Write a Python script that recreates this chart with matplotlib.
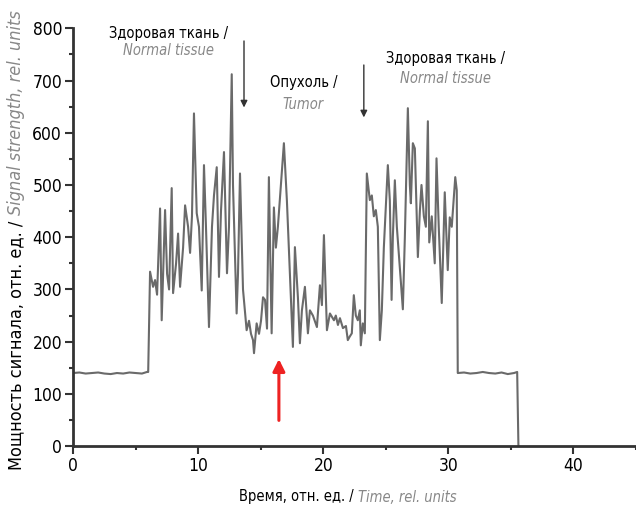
import matplotlib
matplotlib.use('Agg')
import matplotlib.pyplot as plt
from matplotlib import font_manager
from matplotlib.ticker import MultipleLocator

# узкий шрифт, если есть
narrow = [f for f in font_manager.fontManager.ttflist
          if 'Condensed' in f.fname or 'Narrow' in f.fname]
if narrow:
    plt.rcParams['font.family'] = [narrow[0].name, 'DejaVu Sans']
    plt.rcParams['font.stretch'] = 'condensed'
    fs, fs_tick, fs_lab = 10.5, 12.5, 13
else:
    plt.rcParams['font.family'] = ['DejaVu Sans']
    fs, fs_tick, fs_lab = 9, 11, 10.5

# сигнал: время (отн. ед.) и мощность (отн. ед.)
base1_t = [0, 0.5, 1, 1.5, 2, 2.5, 3, 3.5, 4, 4.5, 5, 5.5, 5.9]
base1_v = [140, 141, 139, 140, 141, 139, 138, 140, 139, 141, 140, 139, 142]

sig_t = [6.0, 6.15, 6.39, 6.55, 6.71, 6.95, 7.08, 7.35, 7.51, 7.67, 7.88, 7.99,
         8.23, 8.39, 8.55, 8.79, 8.95, 9.19, 9.35, 9.5, 9.66, 9.88, 10.06, 10.28,
         10.46, 10.62, 10.86, 11.1, 11.26, 11.48, 11.66, 11.82, 12.06, 12.3, 12.46,
         12.68, 12.78, 13.07, 13.18, 13.34, 13.58, 13.87, 14.06, 14.22, 14.38, 14.46,
         14.67, 14.86, 15.02, 15.18, 15.34, 15.5, 15.65, 15.87, 16.05, 16.21, 16.37,
         16.61, 16.85, 17.09, 17.33, 17.57, 17.73, 17.97, 18.13, 18.29, 18.53, 18.77,
         18.93, 19.17, 19.49, 19.73, 19.89, 20.05, 20.29, 20.53, 20.85, 21.0, 21.17,
         21.33, 21.57, 21.81, 21.96, 22.12, 22.28, 22.44, 22.6, 22.76, 22.92, 23.0,
         23.16, 23.32, 23.48, 23.72, 23.88, 24.04, 24.2, 24.36, 24.52, 24.68, 24.84,
         25.0, 25.16, 25.32, 25.46, 25.56, 25.72, 25.88, 26.12, 26.36, 26.52, 26.76,
         26.92, 27.0, 27.16, 27.32, 27.56, 27.72, 27.85, 28.04, 28.2, 28.36, 28.47,
         28.67, 28.91, 29.05, 29.23, 29.47, 29.71, 29.95, 30.11, 30.27, 30.55, 30.67]
sig_v = [142, 334, 305, 318, 290, 455, 241, 452, 330, 300, 494, 293,
         350, 407, 305, 380, 461, 420, 370, 440, 637, 446, 420, 298,
         538, 420, 228, 420, 480, 534, 324, 450, 563, 331, 420,
         712, 500, 254, 330, 522, 300, 222, 240, 215, 203, 178,
         235, 215, 240, 285, 280, 225, 515, 216, 457, 380, 420,
         500, 580, 470, 330, 190, 381, 285, 197, 260, 305, 216,
         260, 250, 228, 308, 270, 404, 222, 254, 241, 250, 232,
         245, 226, 230, 203, 210, 216, 289, 250, 241, 260, 193,
         235, 216, 522, 471, 480, 440, 452, 420, 203, 260, 380,
         460, 538, 470, 280, 400, 509, 420, 340, 262, 400, 647,
         500, 465, 580, 570, 362, 450, 500, 440, 420, 622, 390,
         440, 350, 551, 420, 274, 486, 337, 438, 420, 515, 490]

base2_t = [30.75, 31.25, 31.75, 32.25, 32.75, 33.25, 33.75, 34.25, 34.75, 35.25, 35.5, 35.6]
base2_v = [140, 141, 139, 140, 142, 140, 139, 141, 138, 140, 142, 0]

t = base1_t + sig_t + base2_t
v = base1_v + sig_v + base2_v

W, H = 636, 514
fig = plt.figure(figsize=(W / 100, H / 100), dpi=100)
ax = fig.add_axes([0.115, 0.132, 0.885, 0.813])

ax.plot(t, v, color='#6a6a6a', linewidth=1.5)

ax.set_xlim(0, 45)
ax.set_ylim(0, 800)
ax.xaxis.set_major_locator(MultipleLocator(10))
ax.xaxis.set_minor_locator(MultipleLocator(5))
ax.yaxis.set_major_locator(MultipleLocator(100))
ax.yaxis.set_minor_locator(MultipleLocator(50))
ax.tick_params(which='both', direction='out', color='#333333', width=1.5, labelsize=fs_tick)
ax.tick_params(which='major', length=6, pad=2)
ax.tick_params(which='minor', length=3)
for s in ['top', 'right']:
    ax.spines[s].set_visible(False)
for s in ['left', 'bottom']:
    ax.spines[s].set_linewidth(2)
    ax.spines[s].set_color('#333333')

# подписи областей
gray = '#888888'
ax.text(7.6, 790, 'Здоровая ткань /', ha='center', va='center', fontsize=fs)
ax.text(7.6, 758, 'Normal tissue', ha='center', va='center', fontsize=fs,
        style='italic', color=gray)
ax.text(18.4, 697, 'Опухоль /', ha='center', va='center', fontsize=fs)
ax.text(18.4, 655, 'Tumor', ha='center', va='center', fontsize=fs,
        style='italic', color=gray)
ax.text(29.8, 742, 'Здоровая ткань /', ha='center', va='center', fontsize=fs)
ax.text(29.8, 704, 'Normal tissue', ha='center', va='center', fontsize=fs,
        style='italic', color=gray)

# стрелки
ax.annotate('', xy=(13.66, 643), xytext=(13.66, 781),
            arrowprops=dict(arrowstyle='-|>', color='#333333', lw=1.0, mutation_scale=10))
ax.annotate('', xy=(23.24, 624), xytext=(23.24, 735),
            arrowprops=dict(arrowstyle='-|>', color='#333333', lw=1.0, mutation_scale=10))
ax.annotate('', xy=(16.45, 172), xytext=(16.45, 44),
            arrowprops=dict(arrowstyle='-|>', color='#ee2222', lw=2.2, mutation_scale=18))

# подписи осей: чёрная часть + серая курсивом, стык по измеренной ширине
r = fig.canvas.get_renderer()
xl1 = fig.text(0, 1 - 497 / H, 'Время, отн. ед. / ', ha='left', va='center', fontsize=fs)
xl2 = fig.text(0, 1 - 497 / H, 'Time, rel. units', ha='left', va='center', fontsize=fs,
               style='italic', color=gray)
w1 = xl1.get_window_extent(r).width
w2 = xl2.get_window_extent(r).width
x0 = 348 - (w1 + w2) / 2
xl1.set_x(x0 / W)
xl2.set_x((x0 + w1) / W)

yl1 = fig.text(16 / W, 0, 'Мощность сигнала, отн. ед. / ', rotation=90,
               ha='center', va='bottom', fontsize=fs_lab)
yl2 = fig.text(16 / W, 0, 'Signal strength, rel. units', rotation=90,
               ha='center', va='bottom', fontsize=fs_lab, style='italic', color=gray)
h1 = yl1.get_window_extent(r).height
h2 = yl2.get_window_extent(r).height
y0 = (H - 240) - (h1 + h2) / 2
yl1.set_y(y0 / H)
yl2.set_y((y0 + h1) / H)

plt.savefig('out.png', dpi=100)
